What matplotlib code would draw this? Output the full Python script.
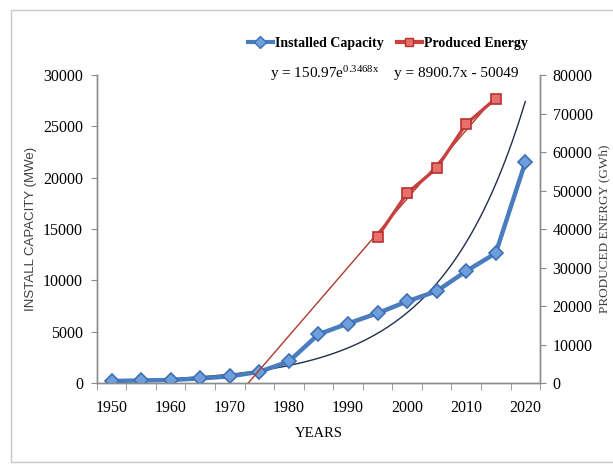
import numpy as np
import matplotlib
matplotlib.use("Agg")
from matplotlib import pyplot as plt
from matplotlib.patches import Rectangle
from matplotlib.lines import Line2D

# data
years = [1950, 1955, 1960, 1965, 1970, 1975, 1980, 1985, 1990, 1995, 2000, 2005, 2010, 2015, 2020]
installed = [200, 250, 300, 450, 650, 1100, 2100, 4750, 5800, 6800, 7950, 8950, 10900, 12650, 21500]
energy_years = [1995, 2000, 2005, 2010, 2015]
energy = [38000, 49300, 55800, 67300, 73900]

# trendline equations printed on the chart (x = category index, 1950 -> 1)
exp_a, exp_b = 150.97, 0.3468
lin_m, lin_c = 8900.7, -50049

year_ticks = [1950, 1960, 1970, 1980, 1990, 2000, 2010, 2020]

plt.rcParams['font.family'] = ['Liberation Serif', 'DejaVu Serif']
plt.rcParams['mathtext.default'] = 'regular'

blue = '#4A7DC0'
red = '#C8413F'
grey = '#8C8C8C'

fig = plt.figure(figsize=(6.13, 4.66), dpi=100)
ax = fig.add_axes([0.158, 0.178, 0.723, 0.661])
ax2 = ax.twinx()

# trendlines
xi = np.linspace(1, 15, 200)
ax.plot(1950 + (xi - 1) * 5, exp_a * np.exp(exp_b * xi), color='#1F2F4F', lw=1.0, zorder=2)
x0 = -lin_c / lin_m
xl = np.linspace(x0, 14, 50)
ax2.plot(1950 + (xl - 1) * 5, lin_m * xl + lin_c, color='#B0392E', lw=1.0, zorder=2)

# series
ax.plot(years, installed, color=blue, lw=3.2, marker='D', ms=7.5,
        mfc='#6E9FDC', mec='#3E6FB3', mew=1.2, zorder=3)
ax2.plot(energy_years, energy, color=red, lw=2.4, marker='s', ms=7.5,
         mfc='#E8706C', mec='#B8302E', mew=1.2, zorder=3)

ax.set_xlim(1947.5, 2022.5)
ax.set_ylim(0, 30000)
ax2.set_ylim(0, 80000)
ax.set_yticks(np.arange(0, 30001, 5000))
ax2.set_yticks(np.arange(0, 80001, 10000))
ax.set_xticks(year_ticks)
ax.set_xticks(np.arange(1947.5, 2023, 5), minor=True)
ax.tick_params(axis='x', which='major', length=0, pad=12, labelsize=11.5)
ax.tick_params(axis='x', which='minor', length=5, color=grey, direction='out')
ax.tick_params(axis='y', length=4, color=grey, pad=6, labelsize=11.5)
ax2.tick_params(axis='y', length=4, color=grey, pad=5, labelsize=11.5)

for a in (ax, ax2):
    a.spines['top'].set_visible(False)
    for s in ('left', 'right', 'bottom'):
        a.spines[s].set_color(grey)
        a.spines[s].set_linewidth(1.0)
ax.patch.set_visible(False)

ax.set_xlabel('YEARS', fontsize=10.5, labelpad=8)
ax.set_ylabel('INSTALL CAPACITY (MWe)', fontsize=9.5, labelpad=4,
              family=['Liberation Sans Narrow', 'Liberation Sans', 'DejaVu Sans'], color='#404040')
ax2.set_ylabel('PRODUCED ENERGY (GWh)', fontsize=9.5, labelpad=4, color='#404040')

handles = [Line2D([], [], color=blue, lw=3, marker='D', ms=6, mfc='#6E9FDC', mec='#3E6FB3'),
           Line2D([], [], color=red, lw=3, marker='s', ms=6, mfc='#E8706C', mec='#B8302E')]
fig.legend(handles, ['Installed Capacity', 'Produced Energy'], loc='center',
           bbox_to_anchor=(0.633, 0.906), ncol=2, frameon=False, handlelength=1.8,
           handletextpad=0.2, columnspacing=0.9, prop={'weight': 'bold', 'size': 10})

fig.text(0.530, 0.842, r'y = 150.97e$^{0.3468x}$', ha='center', va='center', fontsize=11)
fig.text(0.745, 0.842, 'y = 8900.7x - 50049', ha='center', va='center', fontsize=11)

fig.patches.append(Rectangle((0.018, 0.009), 1.0, 0.969, transform=fig.transFigure,
                             fill=False, edgecolor='#C8C8C8', lw=1.0))

fig.savefig('out.png', dpi=100)
